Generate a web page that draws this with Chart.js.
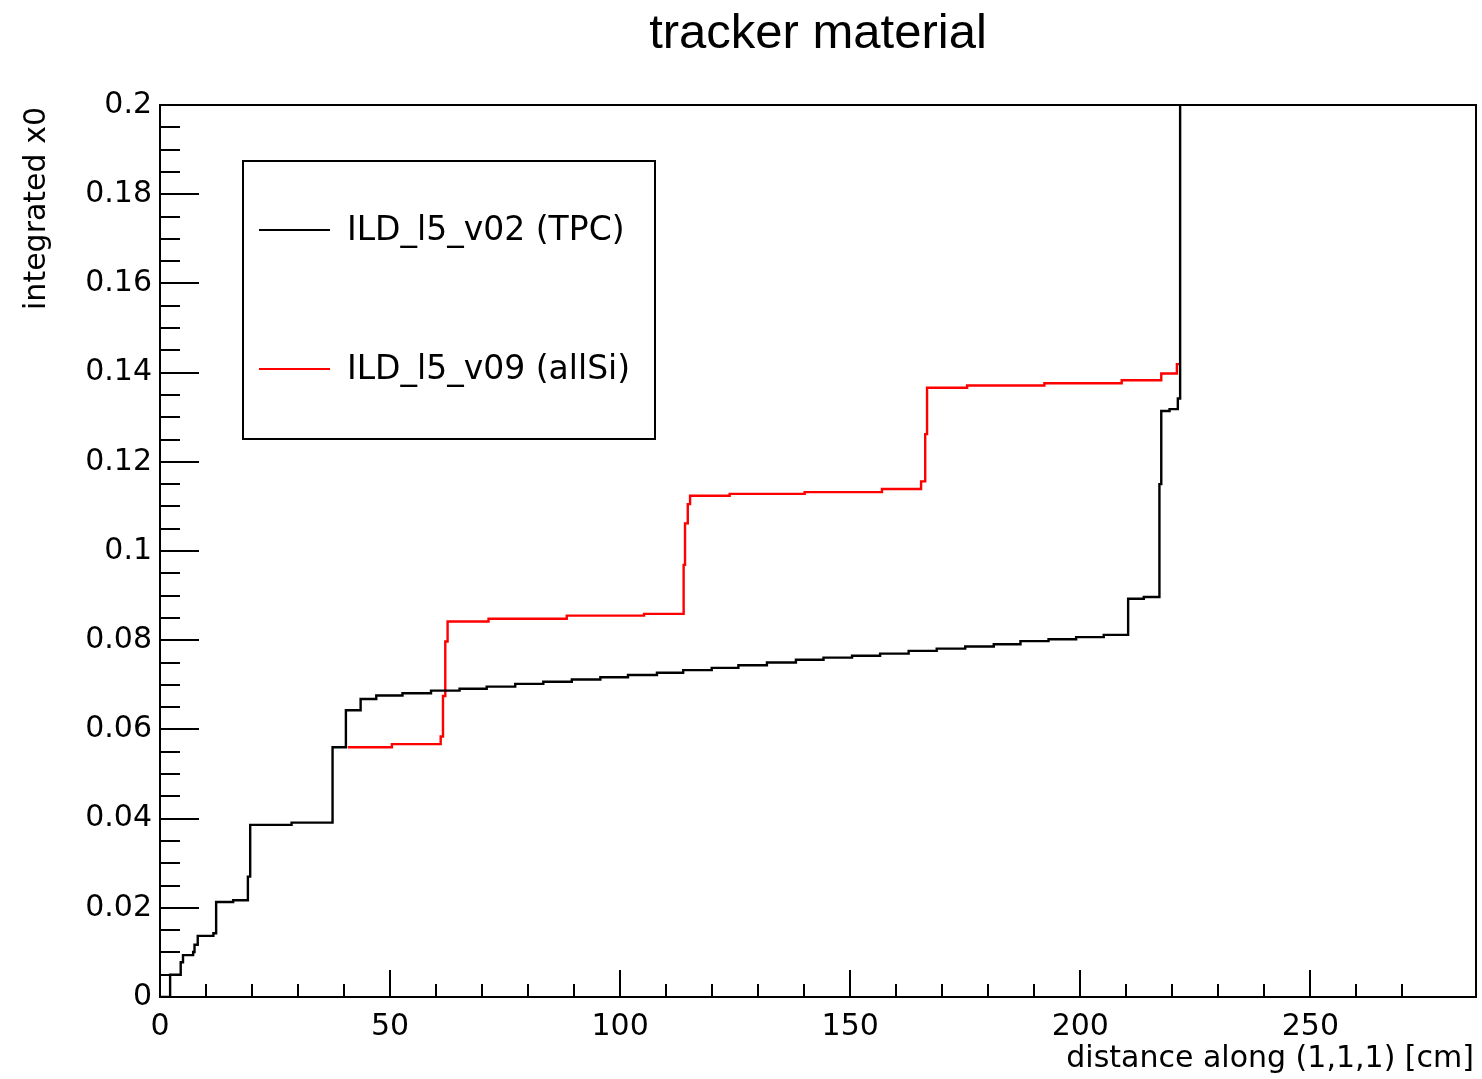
<!DOCTYPE html>
<html>
<head>
<meta charset="utf-8">
<title>tracker material</title>
<script src="https://cdn.jsdelivr.net/npm/chart.js@4/dist/chart.umd.min.js"></script>
<style>
  html, body { margin: 0; padding: 0; background: #fff; }
  #chart { display: block; }
</style>
</head>
<body>
<canvas id="chart" width="1482" height="1079"></canvas>
<script>
// ILD_l5_v02 (TPC) - step positions [cm] and integrated x0 after each step
const tpcX = [0, 2.2, 4.5, 5.0, 7.2, 7.5, 8.2, 11.6, 12.2, 15.9, 19.1, 19.6, 28.6, 37.5, 40.4, 43.6,
  47.0, 52.7, 58.9, 65.1, 71.0, 77.2, 83.3, 89.5, 95.7, 101.7, 108.0, 113.7, 119.9, 125.7, 131.9,
  138.2, 144.2, 150.4, 156.5, 162.7, 168.8, 175.0, 181.2, 187.0, 193.1, 199.1, 205.1, 210.4, 213.8,
  217.2, 217.6, 219.4, 221.2, 221.7];
const tpcY = [0, 0.0050, 0.0078, 0.0094, 0.0101, 0.0117, 0.0137, 0.0143, 0.0213, 0.0217, 0.0270, 0.0386, 0.0391, 0.0560, 0.0643, 0.0668,
  0.0676, 0.0681, 0.0687, 0.0691, 0.0696, 0.0702, 0.0707, 0.0712, 0.0717, 0.0722, 0.0727, 0.0733, 0.0738, 0.0744, 0.0750,
  0.0756, 0.0761, 0.0765, 0.0770, 0.0776, 0.0781, 0.0786, 0.0791, 0.0798, 0.0802, 0.0807, 0.0812, 0.0893, 0.0897,
  0.1150, 0.1314, 0.1318, 0.1342, 0.2000];

// ILD_l5_v09 (allSi)
const siX = [40.8, 50.4, 61.0, 61.5, 62.0, 62.5, 71.4, 88.4, 105.2, 113.8, 114.1, 114.7, 115.2, 123.8,
  140.1, 156.9, 165.4, 166.3, 166.7, 175.4, 192.2, 209.0, 217.6, 221.0, 221.5];
const siY = [0.0560, 0.0567, 0.0584, 0.0675, 0.0797, 0.0842, 0.0848, 0.0855, 0.0859, 0.0969, 0.1062, 0.1105, 0.1124, 0.1128,
  0.1132, 0.1139, 0.1156, 0.1262, 0.1366, 0.1371, 0.1376, 0.1383, 0.1398, 0.1419, 0.1419];

const seriesNames = ['ILD_l5_v02 (TPC)', 'ILD_l5_v09 (allSi)'];
const seriesColors = ['#000000', '#ff0000'];

const xMin = 0, xMax = 286, xMinor = 10, xMajor = 50;
const yMin = 0, yMax = 0.2, yMinor = 0.005, yMajor = 0.02;

const chartTitle = 'tracker material';
const xTitle = 'distance along (1,1,1) [cm]';
const yTitle = 'integrated x0';

const AXIS_FONT = '30px "DejaVu Sans"';

function toPoints(xs, ys) {
  return xs.map(function(x, i) { return { x: x, y: ys[i] }; });
}

function isMultiple(v, step) {
  const r = v / step;
  return Math.abs(r - Math.round(r)) < 1e-6;
}

// ROOT style frame, inward ticks, titles and legend box
const rootStyle = {
  id: 'rootStyle',
  afterDraw(chart) {
    const ctx = chart.ctx;
    const a = chart.chartArea;
    const xs = chart.scales.x;
    const ys = chart.scales.y;
    ctx.save();
    ctx.strokeStyle = '#000';
    ctx.lineWidth = 2;

    // ticks on the x axis, pointing up into the frame
    ctx.beginPath();
    xs.ticks.forEach(function(t) {
      if (!isMultiple(t.value, xMinor)) return;
      const px = Math.round(xs.getPixelForValue(t.value));
      const len = isMultiple(t.value, xMajor) ? 27 : 13;
      ctx.moveTo(px, a.bottom);
      ctx.lineTo(px, a.bottom - len);
    });
    // ticks on the y axis, pointing right into the frame
    ys.ticks.forEach(function(t) {
      if (!isMultiple(t.value, yMinor)) return;
      const py = Math.round(ys.getPixelForValue(t.value));
      const len = isMultiple(t.value, yMajor) ? 39 : 20;
      ctx.moveTo(a.left, py);
      ctx.lineTo(a.left + len, py);
    });
    ctx.stroke();

    // frame
    ctx.strokeRect(a.left, a.top, a.right - a.left, a.bottom - a.top);

    // titles
    ctx.fillStyle = '#000';
    ctx.font = '49px "Liberation Sans"';
    ctx.textAlign = 'center';
    ctx.textBaseline = 'alphabetic';
    ctx.fillText(chartTitle, 818, 48);

    ctx.font = AXIS_FONT;
    ctx.textAlign = 'right';
    ctx.fillText(xTitle, a.right - 2, 1067);

    ctx.save();
    ctx.translate(45, a.top + 2);
    ctx.rotate(-Math.PI / 2);
    ctx.textAlign = 'right';
    ctx.fillText(yTitle, 0, 0);
    ctx.restore();

    // legend
    ctx.fillStyle = '#fff';
    ctx.fillRect(243, 161, 412, 278);
    ctx.strokeRect(243, 161, 412, 278);
    ctx.font = '33px "DejaVu Sans"';
    ctx.textAlign = 'left';
    ctx.textBaseline = 'middle';
    const rows = [230, 369];
    chart.data.datasets.forEach(function(ds, i) {
      ctx.strokeStyle = ds.borderColor;
      ctx.beginPath();
      ctx.moveTo(259, rows[i]);
      ctx.lineTo(330, rows[i]);
      ctx.stroke();
      ctx.fillStyle = '#000';
      ctx.fillText(ds.label, 347, rows[i] + 1);
    });
    ctx.restore();
  }
};

new Chart(document.getElementById('chart'), {
  type: 'line',
  data: {
    datasets: [
      {
        label: seriesNames[0],
        data: toPoints(tpcX, tpcY),
        borderColor: seriesColors[0],
        borderWidth: 2.4,
        pointRadius: 0,
        stepped: 'before',
        fill: false
      },
      {
        label: seriesNames[1],
        data: toPoints(siX, siY),
        borderColor: seriesColors[1],
        borderWidth: 2.4,
        pointRadius: 0,
        stepped: 'before',
        fill: false
      }
    ]
  },
  options: {
    responsive: false,
    animation: false,
    layout: {
      padding: { top: 105, right: 6, left: 0, bottom: 0 }
    },
    plugins: {
      legend: { display: false },
      title: { display: false },
      tooltip: { enabled: false }
    },
    scales: {
      x: {
        type: 'linear',
        min: xMin,
        max: xMax,
        grid: { display: false, drawTicks: false },
        border: { display: false },
        ticks: {
          stepSize: xMinor,
          autoSkip: false,
          maxRotation: 0,
          padding: 12,
          color: '#000',
          font: { family: 'DejaVu Sans', size: 30 },
          callback: function(v) { return isMultiple(v, xMajor) ? String(v) : ''; }
        },
        afterFit: function(scale) {
          scale.height = 82;
          scale.paddingLeft = 0;
          scale.paddingRight = 0;
        }
      },
      y: {
        type: 'linear',
        min: yMin,
        max: yMax,
        grid: { display: false, drawTicks: false },
        border: { display: false },
        ticks: {
          stepSize: yMinor,
          autoSkip: false,
          padding: 8,
          color: '#000',
          font: { family: 'DejaVu Sans', size: 30 },
          callback: function(v) { return isMultiple(v, yMajor) ? String(Number(v.toFixed(3))) : ''; }
        },
        afterFit: function(scale) {
          scale.width = 160;
          scale.paddingTop = 0;
          scale.paddingBottom = 0;
        }
      }
    }
  },
  plugins: [rootStyle]
});
</script>
</body>
</html>
